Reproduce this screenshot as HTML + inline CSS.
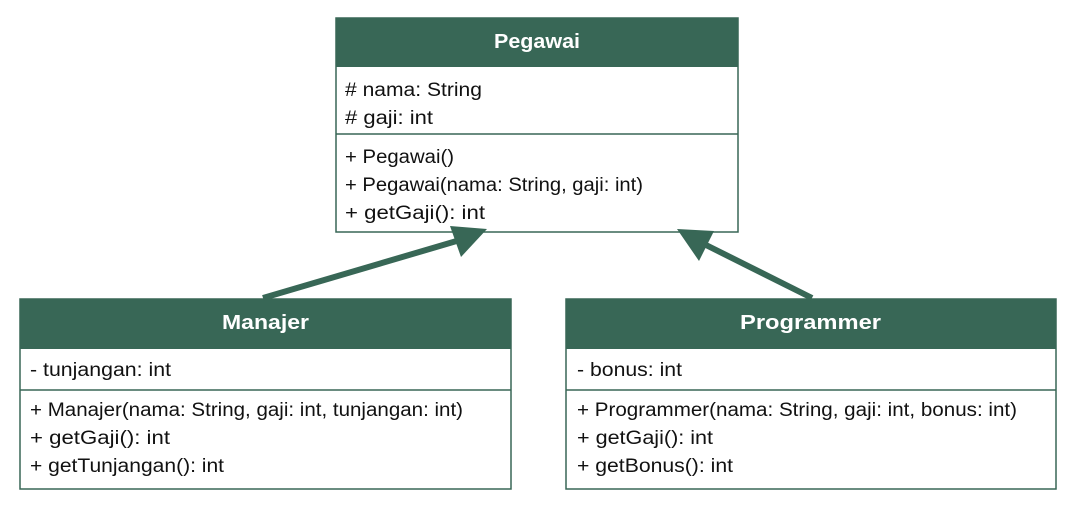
<!DOCTYPE html>
<html><head><meta charset="utf-8"><style>
html,body{margin:0;padding:0;background:#fff;}
svg{display:block;}
text{font-family:"Liberation Sans",sans-serif;}
</style></head><body>
<svg width="1079" height="509" viewBox="0 0 1079 509" xmlns="http://www.w3.org/2000/svg">
<g stroke="#386756" stroke-width="1.5" fill="#fff">
<rect x="336" y="18" width="402" height="214"/>
<rect x="20" y="299" width="491" height="190"/>
<rect x="566" y="299" width="490" height="190"/>
</g>
<g fill="#386756">
<rect x="336" y="18" width="402" height="49"/>
<rect x="20" y="299" width="491" height="50"/>
<rect x="566" y="299" width="490" height="50"/>
</g>
<g stroke="#386756" stroke-width="1.5">
<line x1="336" y1="134" x2="738" y2="134"/>
<line x1="20" y1="390" x2="511" y2="390"/>
<line x1="566" y1="390" x2="1056" y2="390"/>
</g>
<g stroke="#386756" stroke-width="6" fill="none">
<line x1="263" y1="298" x2="460" y2="240"/>
<line x1="812" y1="298" x2="700" y2="242"/>
</g>
<g fill="#386756">
<polygon points="487,229 450,226 461,257"/>
<polygon points="677,229 714,231 699,261"/>
</g>
<g fill="#fff" font-weight="bold" font-size="20">
<text x="494" y="48" textLength="86" lengthAdjust="spacingAndGlyphs">Pegawai</text>
<text x="222" y="329" textLength="87" lengthAdjust="spacingAndGlyphs">Manajer</text>
<text x="740" y="329" textLength="141" lengthAdjust="spacingAndGlyphs">Programmer</text>
</g>
<g fill="#111" font-size="19">
<text x="345" y="96" textLength="137" lengthAdjust="spacingAndGlyphs"># nama: String</text>
<text x="345" y="124" textLength="88" lengthAdjust="spacingAndGlyphs"># gaji: int</text>
<text x="345" y="163" textLength="109" lengthAdjust="spacingAndGlyphs">+ Pegawai()</text>
<text x="345" y="191" textLength="298" lengthAdjust="spacingAndGlyphs">+ Pegawai(nama: String, gaji: int)</text>
<text x="345" y="219" textLength="140" lengthAdjust="spacingAndGlyphs">+ getGaji(): int</text>
<text x="30" y="376" textLength="141" lengthAdjust="spacingAndGlyphs">- tunjangan: int</text>
<text x="30" y="416" textLength="433" lengthAdjust="spacingAndGlyphs">+ Manajer(nama: String, gaji: int, tunjangan: int)</text>
<text x="30" y="444" textLength="140" lengthAdjust="spacingAndGlyphs">+ getGaji(): int</text>
<text x="30" y="472" textLength="194" lengthAdjust="spacingAndGlyphs">+ getTunjangan(): int</text>
<text x="577" y="376" textLength="105" lengthAdjust="spacingAndGlyphs">- bonus: int</text>
<text x="577" y="416" textLength="440" lengthAdjust="spacingAndGlyphs">+ Programmer(nama: String, gaji: int, bonus: int)</text>
<text x="577" y="444" textLength="136" lengthAdjust="spacingAndGlyphs">+ getGaji(): int</text>
<text x="577" y="472" textLength="156" lengthAdjust="spacingAndGlyphs">+ getBonus(): int</text>
</g>
</svg>
</body></html>
